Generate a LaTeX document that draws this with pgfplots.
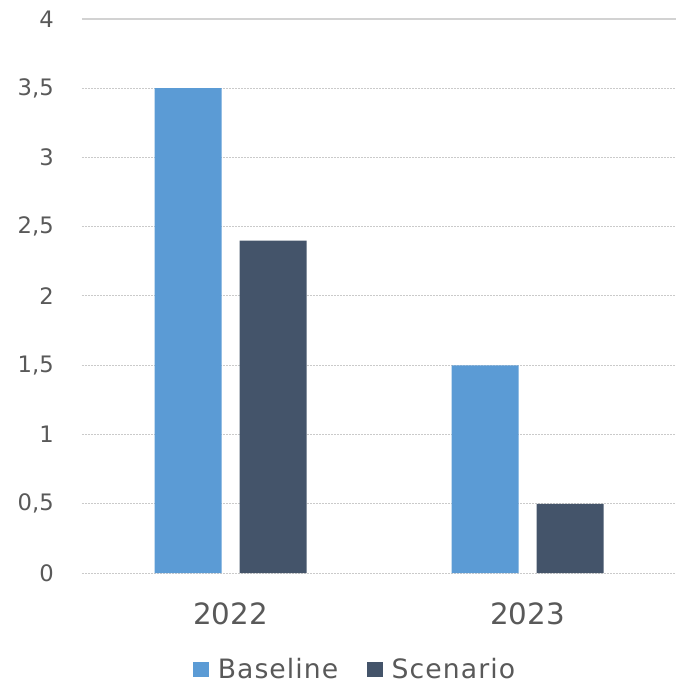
\documentclass[border=0pt]{standalone}
\usepackage{fontspec}
\setmainfont{DejaVu Sans}
\newfontfamily\legfont[LetterSpace=4]{DejaVu Sans}
\usepackage{pgfplots}
\pgfplotsset{compat=1.18}
\definecolor{cBase}{HTML}{5B9BD5}
\definecolor{cScen}{HTML}{44546A}
\definecolor{cTxt}{HTML}{595959}
\definecolor{cGrid}{HTML}{CACACA}
\begin{document}
\begin{tikzpicture}[x=1pt,y=1pt]
\path[use as bounding box] (-61.5,-84) rectangle (445.5,429.75);
\begin{axis}[
  at={(0,0)}, anchor=south west,
  scale only axis, width=445.5pt, height=415.5pt,
  xmin=-0.5, xmax=1.5, ymin=0, ymax=4,
  axis line style={draw=none},
  major tick length=0pt,
  xtick={0,1}, xticklabels={2022,2023},
  ytick={0,0.5,1,1.5,2,2.5,3,3.5},
  extra y ticks={4},
  extra y tick style={ymajorgrids, major grid style={cGrid!85, solid, line width=0.9pt}},
  ymajorgrids,
  major grid style={cGrid, dash pattern=on 1.5pt off 0.75pt, line width=0.75pt},
  /pgf/number format/use comma,
  /pgf/number format/assume math mode=true,
  yticklabel style={font=\fontsize{17}{20}\selectfont, text=cTxt, inner sep=0pt, anchor=east, xshift=-21pt},
  xticklabel style={font=\fontsize{22}{26}\selectfont, text=cTxt, inner sep=0pt, anchor=north, yshift=-21.75pt},
  ybar, bar width=50.25pt,
  legend columns=2,
  legend style={draw=none, fill=none, at={(0.1869,-0.1745)}, anchor=west,
    inner sep=0pt, nodes={inner sep=0pt, text=cTxt}, font=\legfont\fontsize{20}{24}\selectfont,
    /tikz/every odd column/.append style={column sep=6.75pt},
    /tikz/every even column/.append style={column sep=21.75pt}},
]
\addplot[fill=cBase, draw=none, bar shift=-31.875pt,
  legend image code/.code={\fill[cBase] (0pt,-5.6pt) rectangle (11.6pt,6pt);}]
  coordinates {(0,3.5) (1,1.5)};
\addplot[fill=cScen, draw=none, bar shift=31.875pt,
  legend image code/.code={\fill[cScen] (0pt,-5.6pt) rectangle (11.6pt,6pt);}]
  coordinates {(0,2.4) (1,0.5)};
\legend{Baseline, Scenario}
\end{axis}
\end{tikzpicture}
\end{document}
